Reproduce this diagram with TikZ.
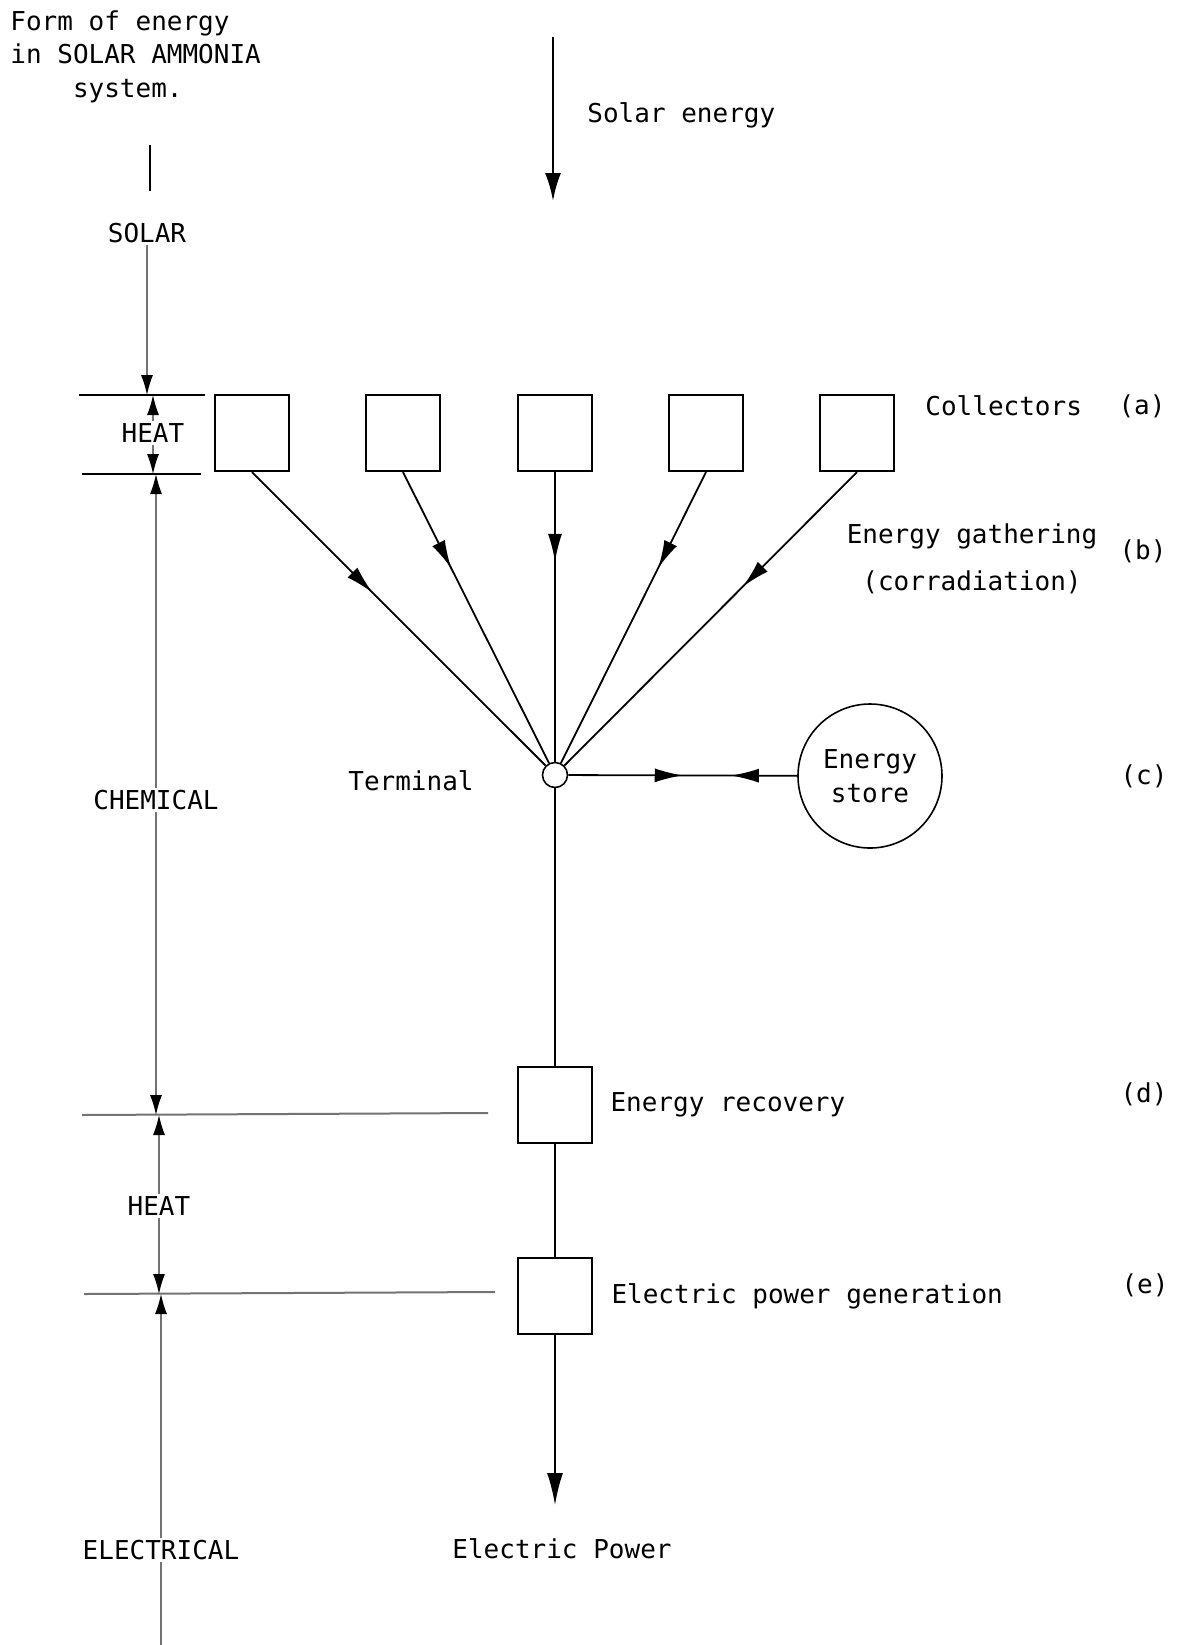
\documentclass[tikz,border=0pt]{standalone}
\usepackage{fontspec}
\setmonofont{DejaVu Sans Mono}
\usetikzlibrary{arrows.meta, positioning, decorations.markings}

\tikzset{
  txt/.style={font=\ttfamily\fontsize{13}{16.8}\selectfont, inner sep=1pt},
  unitbox/.style={draw, line width=1.1pt, minimum width=37pt, minimum height=38pt, inner sep=0pt},
  flow/.style={line width=0.9pt},
  midarrow/.style={postaction={decorate}, decoration={markings,
      mark=at position #1 with {\arrow{Latex[length=14pt,width=7pt]}}}},
  twoway/.style={postaction={decorate}, decoration={markings,
      mark=at position 0.50 with {\arrow{Latex[length=14pt,width=7pt]}},
      mark=at position 0.71 with {\arrowreversed{Latex[length=14pt,width=7pt]}}}},
  axis/.style={draw=black!55, line width=0.6pt},
  axistip/.style={-{Latex[length=10pt,width=6pt,color=black]}},
  bound/.style={line width=1.2pt},
}

\begin{document}
\begin{tikzpicture}[x=0.5pt, y=-0.5pt]
  \fill[white] (0,0) rectangle (1179,1645);
  \useasboundingbox (0,0) rectangle (1179,1645);

  % heading and solar input
  \node[txt, anchor=north west, align=left] (title) at (8,8)
    {Form of energy\\in SOLAR AMMONIA\\\phantom{Form}system.};
  \coordinate (sun) at (553,37);
  \coordinate (sunend) at (553,201);
  \draw[line width=1.3pt, -{Latex[length=14pt,width=8pt]}] (sun) -- (sunend);
  \node[txt, anchor=west] (sunlab) at (585,115) {Solar energy};

  % form of energy axis
  \coordinate (stubA) at (150,145);
  \coordinate (stubB) at (150,191);
  \draw[line width=0.8pt] (stubA) -- (stubB);
  \node[txt] (solar) at (147,233) {SOLAR};
  \coordinate (hlAw) at (79,395);  \coordinate (hlAe) at (205,395);
  \coordinate (hlBw) at (82,474);  \coordinate (hlBe) at (201,474);
  \draw[bound] (hlAw) -- (hlAe);
  \draw[bound] (hlBw) -- (hlBe);
  \node[txt] (heatA) at (153,433) {HEAT};
  \draw[axis, axistip] (solar) -- (solar |- hlAw);
  \draw[axis, axistip] (heatA) -- (heatA |- hlAw);
  \draw[axis, axistip] (heatA) -- (heatA |- hlBw);
  \node[txt] (chem) at (156,800) {CHEMICAL};
  \draw[axis, axistip] (chem) -- (chem |- hlBw);
  \coordinate (hlCw) at (82,1115);  \coordinate (hlCe) at (488,1113);
  \coordinate (hlDw) at (84,1294);  \coordinate (hlDe) at (495,1292);
  \draw[axis, line width=1pt] (hlCw) -- (hlCe);
  \draw[axis, line width=1pt] (hlDw) -- (hlDe);
  \draw[axis, axistip] (chem) -- (chem |- hlCw);
  \node[txt] (heatB) at (159,1206) {HEAT};
  \draw[axis, axistip] (heatB) -- (heatB |- hlCw);
  \draw[axis, axistip] (heatB) -- (heatB |- hlDw);
  \node[txt] (elec) at (161,1550) {ELECTRICAL};
  \draw[axis, axistip] (elec) -- (elec |- hlDw);
  \coordinate (axend) at (161,1645);
  \draw[axis] (elec) -- (axend);

  % collectors and gathering
  \foreach \i/\x in {1/252,2/403,3/555,4/706,5/857}
    \node[unitbox] (c\i) at (\x,433) {};
  \node[txt, anchor=west] (collab) at (923,406) {Collectors};
  \node[txt] (taga) at (1142,406) {(a)};
  \node[txt, align=center] (gathlab) at (972,559) {Energy gathering\\[7pt](corradiation)};
  \node[txt] (tagb) at (1143,551) {(b)};

  \node[draw, circle, minimum size=12.5pt, inner sep=0pt, line width=0.8pt] (term) at (555,775) {};
  \node[txt] (termlab) at (411,781) {Terminal};
  \foreach \i/\p in {1/0.41,2/0.33,3/0.31,4/0.33,5/0.39}
    \draw[flow, midarrow=\p] (c\i.south) -- (term);

  % storage
  \node[txt, draw, circle, minimum size=72pt, line width=0.8pt, align=center] (store) at (870,776) {Energy\\store};
  \draw[flow, twoway] (term) -- (store);
  \node[txt] (tagc) at (1144,776) {(c)};

  % recovery and generation
  \node[unitbox] (recov) at (555,1105) {};
  \node[unitbox] (gen) at (555,1296) {};
  \draw[flow] (term) -- (recov);
  \draw[flow] (recov) -- (gen);
  \node[txt, right=7.5pt of recov] (recovlab) {Energy recovery};
  \node[txt, right=8pt of gen] (genlab) {Electric power generation};
  \node[txt] (tagd) at (1144,1094) {(d)};
  \node[txt] (tage) at (1145,1285) {(e)};
  \coordinate (out) at (555,1505);
  \draw[flow, -{Latex[length=16pt,width=8pt]}] (gen) -- (out);
  \node[txt] (power) at (562,1549) {Electric Power};
\end{tikzpicture}
\end{document}
